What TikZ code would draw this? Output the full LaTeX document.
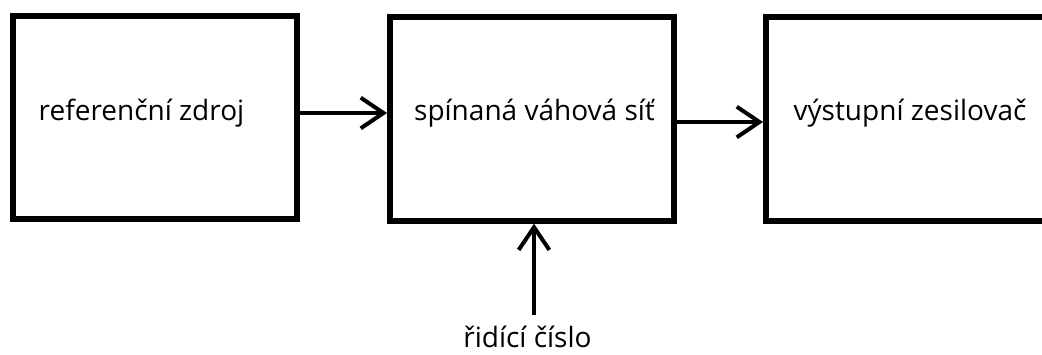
\documentclass[tikz,border=0pt]{standalone}
\usepackage{fontspec}
\setmainfont{Open Sans}
\usetikzlibrary{arrows.meta}
\begin{document}
\begin{tikzpicture}[x=0.75pt,y=-0.75pt,
  blockbox/.style={draw=black,line width=4.5pt,fill=white,minimum width=213pt,minimum height=152.5pt,inner sep=0pt},
  lbl/.style={font=\fontsize{21pt}{25pt}\selectfont,text=black,inner sep=0pt},
  arr/.style={line width=3pt,-{Straight Barb[length=17pt,width=23pt,line width=3pt]}}]
\useasboundingbox (0,0) rectangle (1042,354);
\fill[white] (0,0) rectangle (1042,354);
\begin{scope}
\clip (0,0) rectangle (1042,354);
\node[blockbox] (b1) at (155,117.5) {};
\node[blockbox] (b2) at (532,119) {};
\node[blockbox] (b3) at (908,119) {};
\end{scope}
\node[lbl] (t1) at (141.5,113) {referenční zdroj};
\node[lbl] (t2) at (534.5,113) {spínaná váhová síť};
\node[lbl] (t3) at (910,113) {výstupní zesilovač};
\node[lbl,anchor=base] (t4) at (527.5,347) {řidící číslo};
\path (b1.east) ++(0,-4.5) coordinate (a1);
\draw[arr] (a1) -- (a1 -| b2.west);
\path (b2.east) ++(0,3) coordinate (a2);
\draw[arr] (a2) -- (a2 -| b3.west);
\coordinate (c1) at (534,315);
\draw[arr] (c1) -- (c1 |- b2.south);
\end{tikzpicture}
\end{document}
